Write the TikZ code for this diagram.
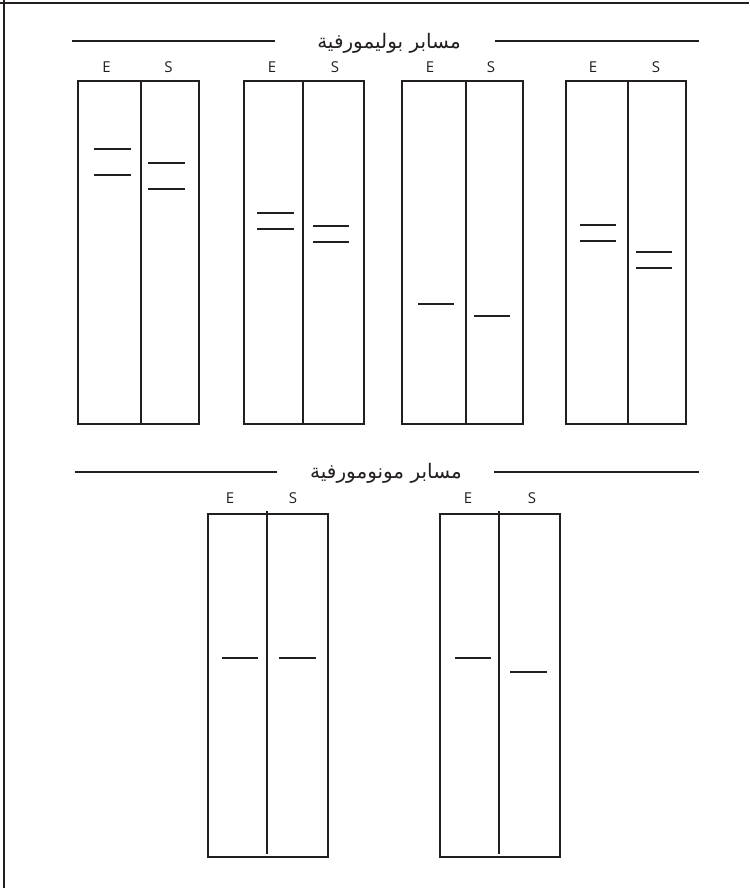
\documentclass[tikz,border=0pt]{standalone}
\usepackage{fontspec}
\setmainfont{Open Sans}
\newfontfamily\arabicfont[Script=Arabic]{DejaVu Sans}
\TeXXeTstate=1
\definecolor{ink}{HTML}{231F20}
\begin{document}
\begin{tikzpicture}[x=1pt,y=-1pt,
  gelbox/.style={draw=ink,line width=2.8pt},
  divline/.style={draw=ink,line width=2.8pt},
  band/.style={draw=ink,line width=2.6pt},
  rule/.style={draw=ink,line width=2.8pt},
  lanelabel/.style={font=\fontsize{15}{15}\selectfont,text=ink,inner sep=0pt,anchor=center},
  titlelabel/.style={font=\arabicfont\fontsize{20}{20}\selectfont,text=ink,inner sep=0pt,anchor=center}]
\useasboundingbox (0,0) rectangle (749,888);
% frame (top and left only)
\draw[rule] (0,3) -- (749,3);
\draw[rule] (4,0) -- (4,888);

% ---- polymorphic section ----
\node[titlelabel] (t1) at (389,43) {\beginR مسابر بوليمورفية\endR};
\coordinate (t1a) at (72,41);
\coordinate (t1b) at (699,41);
\draw[rule] (t1a) -- (275,41);
\draw[rule] (495,41) -- (t1b);

% gels
\draw[gelbox] (78,81) rectangle (199,424);
\draw[divline] (141,81) -- (141,424);
\draw[gelbox] (244,81) rectangle (364,424);
\draw[divline] (303,81) -- (303,424);
\draw[gelbox] (402,81) rectangle (523,424);
\draw[divline] (466,81) -- (466,424);
\draw[gelbox] (566,81) rectangle (686,424);
\draw[divline] (628,81) -- (628,424);

% labels
\node[lanelabel] (e1) at (106.5,67) {E};
\node[lanelabel] (s1) at (168.5,67) {S};
\node[lanelabel] (e2) at (272,67) {E};
\node[lanelabel] (s2) at (335,67) {S};
\node[lanelabel] (e3) at (430,67) {E};
\node[lanelabel] (s3) at (491,67) {S};
\node[lanelabel] (e4) at (593,67) {E};
\node[lanelabel] (s4) at (656,67) {S};

% bands
\draw[band] (94,149) -- (131,149);
\draw[band] (94,175) -- (131,175);
\draw[band] (148,163) -- (185,163);
\draw[band] (148,189) -- (185,189);

\draw[band] (257,213) -- (294,213);
\draw[band] (257,229) -- (294,229);
\draw[band] (313,226) -- (349,226);
\draw[band] (313,242) -- (349,242);

\draw[band] (418,304) -- (454,304);
\draw[band] (474,316) -- (510,316);

\draw[band] (580,225) -- (616,225);
\draw[band] (580,241) -- (616,241);
\draw[band] (636,252) -- (672,252);
\draw[band] (636,268) -- (672,268);

% ---- monomorphic section ----
\node[titlelabel] (t2) at (386,473) {\beginR مسابر مونومورفية\endR};
\draw[rule] (75,472) -- (277,472);
\draw[rule] (494,472) -- (699,472);

\draw[gelbox] (208,514) rectangle (328,857);
\draw[divline] (267,511) -- (267,854);
\draw[gelbox] (440,514) rectangle (560,857);
\draw[divline] (499,511) -- (499,854);

\node[lanelabel] (e5) at (230,498) {E};
\node[lanelabel] (s5) at (293,498) {S};
\node[lanelabel] (e6) at (468,498) {E};
\node[lanelabel] (s6) at (532,498) {S};

\draw[band] (222,658) -- (258,658);
\draw[band] (279,658) -- (316,658);
\draw[band] (455,658) -- (491,658);
\draw[band] (510,672) -- (547,672);
\end{tikzpicture}
\end{document}
